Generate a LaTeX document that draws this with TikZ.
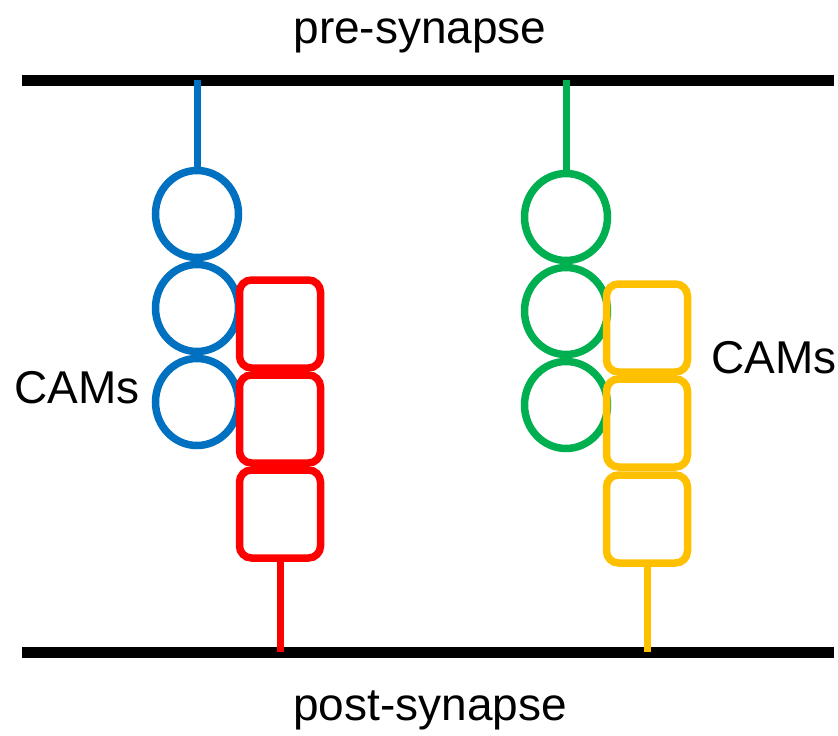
\documentclass[tikz,border=0pt]{standalone}
\usepackage{fontspec}
\setmainfont{Liberation Sans}
\usetikzlibrary{shapes.geometric}
\definecolor{camblue}{HTML}{0070C0}
\definecolor{camred}{HTML}{FF0000}
\definecolor{camgreen}{HTML}{00B050}
\definecolor{camyellow}{HTML}{FFC000}
\begin{document}
\begin{tikzpicture}[x=1pt,y=-1pt,
    membrane/.style={line width=11pt},
    stem/.style={line width=7pt},
    ring/.style={ellipse,draw,line width=7.5pt,inner sep=0pt,minimum width=83pt,minimum height=87pt},
    cell/.style={rectangle,draw,line width=7.5pt,rounded corners=12pt,inner sep=0pt,minimum width=81pt,minimum height=88pt},
    label/.style={font=\fontsize{46}{55}\selectfont}]
    \useasboundingbox (0,0) rectangle (838,736);
    % membranes
    \coordinate (preL) at (22,80);
    \coordinate (preR) at (834,80);
    \coordinate (postL) at (22,652);
    \coordinate (postR) at (834,652);
    \draw [membrane] (preL) -- (preR);
    \draw [membrane] (postL) -- (postR);
    \node [label,anchor=base] (pre) at (420,43) {pre-synapse};
    \node [label,anchor=base] (post) at (430,720) {post-synapse};
    % left pair
    \node [ring,camblue] (b1) at (197,214) {};
    \node [ring,camblue] (b2) at (197,308) {};
    \node [ring,camblue] (b3) at (197,402) {};
    \node [cell,camred] (r1) at (280,324) {};
    \node [cell,camred] (r2) at (280,419) {};
    \node [cell,camred] (r3) at (280,514) {};
    \coordinate (bTop) at (197,80);
    \coordinate (rBot) at (280,652);
    \draw [stem,camblue] (bTop) -- (b1);
    \draw [stem,camred] (r3) -- (rBot);
    % right pair
    \node [ring,camgreen] (g1) at (566,217) {};
    \node [ring,camgreen] (g2) at (566,311) {};
    \node [ring,camgreen] (g3) at (566,405) {};
    \node [cell,camyellow] (y1) at (647,328) {};
    \node [cell,camyellow] (y2) at (647,423) {};
    \node [cell,camyellow] (y3) at (647,519) {};
    \coordinate (gTop) at (566,80);
    \coordinate (yBot) at (647,652);
    \draw [stem,camgreen] (gTop) -- (g1);
    \draw [stem,camyellow] (y3) -- (yBot);
    \node [label,anchor=base west] (camL) at (11,403) {CAMs};
    \node [label,anchor=base west] (camR) at (708,373) {CAMs};
\end{tikzpicture}
\end{document}
